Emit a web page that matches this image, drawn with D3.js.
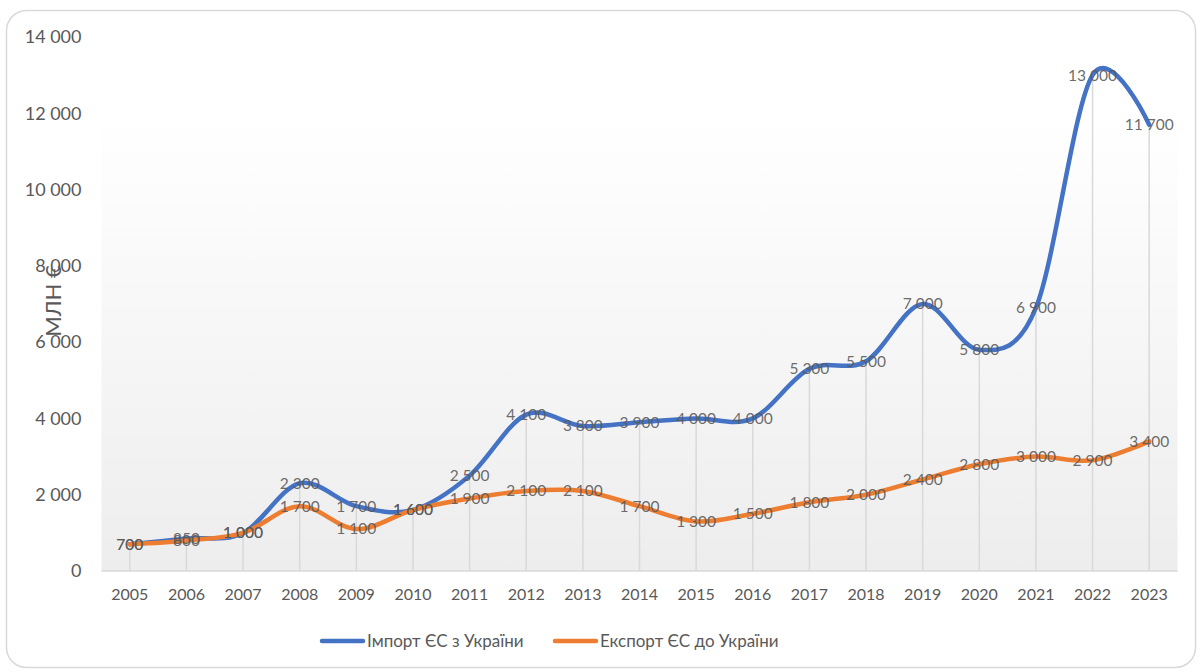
<!DOCTYPE html>
<html><head><meta charset="utf-8">
<script src="https://cdn.jsdelivr.net/npm/d3@7"></script>
<style>html,body{margin:0;padding:0;background:#fff;}svg{display:block;font-family:Lato,"Open Sans",sans-serif;}</style>
</head><body>
<svg id="chart" width="1201" height="672"></svg>
<script>
const years = ["2005","2006","2007","2008","2009","2010","2011","2012","2013","2014","2015","2016","2017","2018","2019","2020","2021","2022","2023"];
const importEU = [700,850,1000,2300,1700,1600,2500,4100,3800,3900,4000,4000,5300,5500,7000,5800,6900,13000,11700];
const exportEU = [700,800,1000,1700,1100,1600,1900,2100,2100,1700,1300,1500,1800,2000,2400,2800,3000,2900,3400];
const yTicks = [0,2000,4000,6000,8000,10000,12000,14000];
const seriesNames = ["Імпорт ЄС з України","Експорт ЄС до України"];
const colors = ["#4472C4","#ED7D31"];
const yTitle = "МЛН €";

(function(){
const svg = d3.select("#chart");
const pL = 101.5, pR = 1177.5, pT = 37, pB = 571;
const fmt = v => d3.format(",")(v).replace(/,/g, " ");

svg.append("rect").attr("x",6.5).attr("y",10.5).attr("width",1189).attr("height",657)
  .attr("rx",20).attr("fill","#fff").attr("stroke","#d9d9d9").attr("stroke-width",1.5);

const defs = svg.append("defs");
const g = defs.append("linearGradient").attr("id","bg").attr("x1",0).attr("y1",0).attr("x2",0).attr("y2",1);
g.append("stop").attr("offset","0%").attr("stop-color","#ffffff");
g.append("stop").attr("offset","100%").attr("stop-color","#ededed");

const x = d3.scaleBand().domain(years).range([pL,pR]);
const y = d3.scaleLinear().domain([0,14000]).range([pB,pT]);
const cx = d => x(d) + x.bandwidth()/2;

svg.append("rect").attr("x",pL).attr("y",y(12000)).attr("width",pR-pL).attr("height",pB-y(12000)).attr("fill","url(#bg)");

svg.append("g").selectAll("line").data(years).join("line")
  .attr("x1",d=>cx(d)).attr("x2",d=>cx(d))
  .attr("y1",pB).attr("y2",(d,i)=>y(Math.max(importEU[i],exportEU[i])))
  .attr("stroke","#d9d9d9").attr("stroke-width",1.5);

svg.append("line").attr("x1",pL).attr("x2",pR).attr("y1",pB).attr("y2",pB)
  .attr("stroke","#d9d9d9").attr("stroke-width",1.5);

const yAxis = svg.append("g").attr("transform",`translate(${pL-20},0)`)
  .call(d3.axisLeft(y).tickValues(yTicks).tickFormat(fmt).tickSize(0).tickPadding(0));
yAxis.select(".domain").remove();
yAxis.selectAll("text").attr("fill","#595959").style("font-size","18px").style("font-family","Lato,'Open Sans',sans-serif");

const xAxis = svg.append("g").attr("transform",`translate(0,${pB})`)
  .call(d3.axisBottom(x).tickSize(0).tickPadding(18));
xAxis.select(".domain").remove();
xAxis.selectAll("text").attr("fill","#595959").style("font-size","16px").style("font-family","Lato,'Open Sans',sans-serif");

svg.append("text").attr("transform","translate(53,301) rotate(-90)").attr("text-anchor","middle").attr("dy","0.35em")
  .attr("fill","#595959").style("font-size","22px").text(yTitle);

const line = d3.line().x((d,i)=>cx(years[i])).y(d=>y(d)).curve(d3.curveCardinal.tension(0));
const series = [importEU, exportEU];
series.forEach((s,k)=>{
  svg.append("path").attr("d",line(s)).attr("fill","none").attr("stroke",colors[k])
    .attr("stroke-width",4.5).attr("stroke-linecap","round").attr("stroke-linejoin","round");
});
series.forEach((s,k)=>{
  svg.append("g").selectAll("text").data(s).join("text")
    .attr("x",(d,i)=>cx(years[i])).attr("y",d=>y(d)).attr("dy","0.35em")
    .attr("text-anchor","middle").attr("fill","#595959").attr("fill-opacity",0.9)
    .style("font-size","15.5px").text(d=>fmt(d));
});

const leg = svg.append("g");
const legX = [322, 555];
seriesNames.forEach((n,k)=>{
  leg.append("line").attr("x1",legX[k]).attr("x2",legX[k]+41).attr("y1",641).attr("y2",641)
    .attr("stroke",colors[k]).attr("stroke-width",4.5).attr("stroke-linecap","round");
  leg.append("text").attr("x",legX[k]+45).attr("y",641).attr("dy","0.35em")
    .attr("fill","#595959").style("font-size","17px").text(n);
});
})();
</script>
</body></html>
